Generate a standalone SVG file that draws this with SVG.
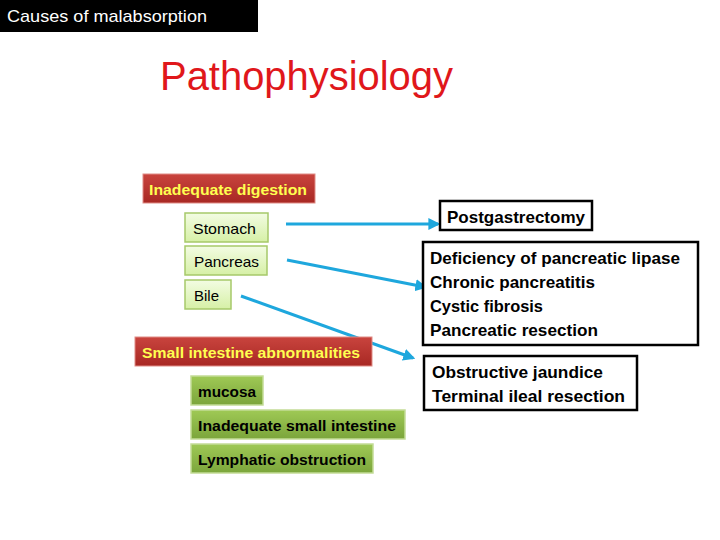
<svg xmlns="http://www.w3.org/2000/svg" width="720" height="540" viewBox="0 0 720 540">
<defs>
<style>
.t{font-family:"Liberation Sans",Arial,sans-serif}
.b{font-weight:bold}
.lg{fill:url(#lg);stroke:#a6c96a;stroke-width:1.5}
.dg{fill:url(#dg);stroke:#c3dc97;stroke-width:1.5}
.rd{fill:url(#rd);stroke:#e08c86;stroke-width:1}
.bx{fill:#fff;stroke:#000;stroke-width:2.5}
.y{fill:#ffff50;font-size:15px}
.k{fill:#000;font-size:15px}
.bk{fill:#000;font-size:17px}
.c{stroke:#1ea7dd;stroke-width:3;fill:none;marker-end:url(#ah)}
</style>
<linearGradient id="lg" x1="0" y1="0" x2="0" y2="1"><stop offset="0" stop-color="#f3fce3"/><stop offset="1" stop-color="#d6f0a6"/></linearGradient>
<linearGradient id="dg" x1="0" y1="0" x2="0" y2="1"><stop offset="0" stop-color="#9fc955"/><stop offset="1" stop-color="#7ba53b"/></linearGradient>
<linearGradient id="rd" x1="0" y1="0" x2="0" y2="1"><stop offset="0" stop-color="#c9443e"/><stop offset="1" stop-color="#a82823"/></linearGradient>
<marker id="ah" viewBox="0 0 10 10" refX="8" refY="5" markerWidth="4" markerHeight="4" orient="auto" markerUnits="strokeWidth"><path d="M0,0 L10,5 L0,10 Z" fill="#1ea7dd"/></marker>
</defs>
<rect width="720" height="540" fill="#fff"/>
<g id="header">
<rect x="0" y="0" width="258" height="32" fill="#000"/>
<text class="t" x="7" y="22" font-size="17" fill="#fff" textLength="200" lengthAdjust="spacingAndGlyphs">Causes of malabsorption</text>
</g>
<g id="title">
<text class="t" x="160" y="90" font-size="40" fill="#e0171b" textLength="293" lengthAdjust="spacingAndGlyphs">Pathophysiology</text>
</g>
<g id="connectors">
<line class="c" x1="286" y1="224" x2="438" y2="224"/>
<line class="c" x1="287" y1="260" x2="425" y2="287"/>
<line class="c" x1="241" y1="296" x2="413" y2="358"/>
</g>
<g id="inadequate-digestion">
<rect class="rd" x="143" y="174" width="172" height="29"/>
<text class="t b y" x="149" y="195" textLength="158" lengthAdjust="spacingAndGlyphs">Inadequate digestion</text>
</g>
<g id="stomach">
<rect class="lg" x="185" y="213" width="83" height="29"/>
<text class="t k" x="193" y="234" textLength="63" lengthAdjust="spacingAndGlyphs">Stomach</text>
</g>
<g id="pancreas">
<rect class="lg" x="185" y="246" width="82" height="29"/>
<text class="t k" x="194" y="267" textLength="65" lengthAdjust="spacingAndGlyphs">Pancreas</text>
</g>
<g id="bile">
<rect class="lg" x="185" y="280" width="46" height="29"/>
<text class="t k" x="194" y="301" textLength="25" lengthAdjust="spacingAndGlyphs">Bile</text>
</g>
<g id="small-intestine">
<rect class="rd" x="135" y="337" width="237" height="29"/>
<text class="t b y" x="142" y="358" textLength="218" lengthAdjust="spacingAndGlyphs">Small intestine abnormalities</text>
</g>
<g id="mucosa">
<rect class="dg" x="191" y="376" width="72" height="29"/>
<text class="t b k" x="198" y="397" textLength="58" lengthAdjust="spacingAndGlyphs">mucosa</text>
</g>
<g id="inadequate-small-intestine">
<rect class="dg" x="191" y="410" width="214" height="29"/>
<text class="t b k" x="198" y="431" textLength="198" lengthAdjust="spacingAndGlyphs">Inadequate small intestine</text>
</g>
<g id="lymphatic">
<rect class="dg" x="191" y="444" width="182" height="29"/>
<text class="t b k" x="198" y="465" textLength="168" lengthAdjust="spacingAndGlyphs">Lymphatic obstruction</text>
</g>
<g id="postgastrectomy">
<rect class="bx" x="440" y="201" width="152" height="29"/>
<text class="t b bk" x="447" y="223" textLength="138" lengthAdjust="spacingAndGlyphs">Postgastrectomy</text>
</g>
<g id="pancreatic-causes">
<rect class="bx" x="423" y="242" width="275" height="103"/>
<text class="t b bk" x="430" y="264" textLength="250" lengthAdjust="spacingAndGlyphs">Deficiency of pancreatic lipase</text>
<text class="t b bk" x="430" y="288" textLength="165" lengthAdjust="spacingAndGlyphs">Chronic pancreatitis</text>
<text class="t b bk" x="430" y="312" textLength="113" lengthAdjust="spacingAndGlyphs">Cystic fibrosis</text>
<text class="t b bk" x="430" y="336" textLength="168" lengthAdjust="spacingAndGlyphs">Pancreatic resection</text>
</g>
<g id="bile-causes">
<rect class="bx" x="424" y="356" width="213" height="54"/>
<text class="t b bk" x="432" y="378" textLength="171" lengthAdjust="spacingAndGlyphs">Obstructive jaundice</text>
<text class="t b bk" x="432" y="402" textLength="193" lengthAdjust="spacingAndGlyphs">Terminal ileal resection</text>
</g>
</svg>
